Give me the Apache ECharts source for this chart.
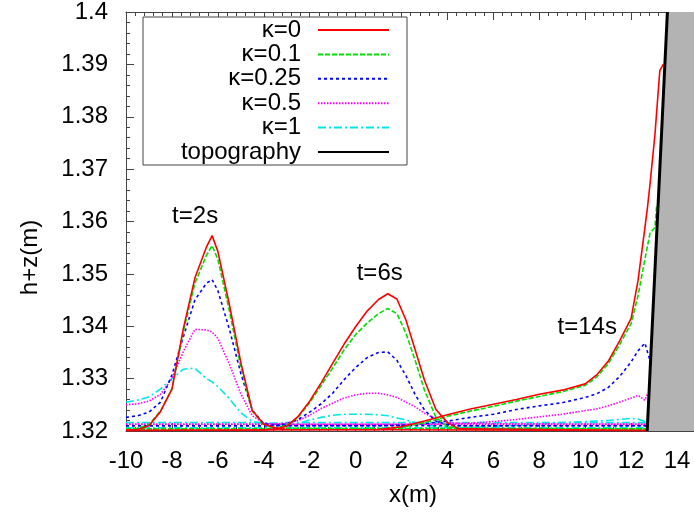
<!DOCTYPE html>
<html><head><meta charset="utf-8">
<script src="https://cdn.jsdelivr.net/npm/echarts@6/dist/echarts.min.js"></script>
<style>html,body{margin:0;padding:0;background:#fff;overflow:hidden;width:694px;height:514px}#c{width:700px;height:514px}</style>
</head><body><div id="c"></div>
<script>
// ---- data ----
const kappaNames = ['κ=0', 'κ=0.1', 'κ=0.25', 'κ=0.5', 'κ=1'];
const timeLabels = ['t=2s', 't=6s', 't=14s'];
const timeLabelX = [-6.99, 1.05, 10.09];
const timeLabelY = [1.3610, 1.3501, 1.3398];

const t2X = [-10, -9.5, -9, -8.5, -8, -7.5, -7, -6.5, -6.25, -6, -5.5, -5, -4.5, -4, -3.5, -3, 12.7];
const t2_k0   = [1.3202, 1.3203, 1.3210, 1.3237, 1.3280, 1.3396, 1.3492, 1.3551, 1.3573, 1.3543, 1.3442, 1.3331, 1.3239, 1.3213, 1.3206, 1.3203, 1.3201];
const t2_k01  = [1.3204, 1.3205, 1.3212, 1.3238, 1.3280, 1.3390, 1.3482, 1.3535, 1.3554, 1.3528, 1.3430, 1.3322, 1.3238, 1.3212, 1.3206, 1.3205, 1.3204];
const t2_k025 = [1.3226, 1.3229, 1.3236, 1.3255, 1.3307, 1.3380, 1.3450, 1.3482, 1.3489, 1.3468, 1.3395, 1.3310, 1.3240, 1.3214, 1.3211, 1.3210, 1.3210];
const t2_k05  = [1.3250, 1.3252, 1.3257, 1.3270, 1.3300, 1.3352, 1.3394, 1.3393, 1.3389, 1.3377, 1.3328, 1.3271, 1.3229, 1.3215, 1.3213, 1.3213, 1.3213];
const t2_k1   = [1.3255, 1.3259, 1.3265, 1.3280, 1.3300, 1.3318, 1.3320, 1.3300, 1.3294, 1.3285, 1.3262, 1.3235, 1.3218, 1.3214, 1.3215, 1.3216, 1.3216];

const t6X = [-10, -4, -3.5, -3, -2.5, -2, -1.5, -1, -0.5, 0, 0.5, 1, 1.4, 1.8, 2.2, 2.6, 3, 3.5, 4, 4.5, 12.7];
const t6_k0   = [1.3201, 1.3202, 1.3204, 1.3209, 1.3228, 1.3257, 1.3292, 1.3329, 1.3366, 1.3399, 1.3429, 1.3451, 1.3462, 1.3452, 1.3411, 1.3354, 1.3297, 1.3241, 1.3216, 1.3204, 1.3201];
const t6_k01  = [1.3204, 1.3204, 1.3206, 1.3211, 1.3226, 1.3254, 1.3287, 1.3320, 1.3355, 1.3384, 1.3406, 1.3424, 1.3434, 1.3424, 1.3386, 1.3334, 1.3278, 1.3226, 1.3208, 1.3205, 1.3204];
const t6_k025 = [1.3210, 1.3210, 1.3210, 1.3214, 1.3222, 1.3236, 1.3252, 1.3272, 1.3298, 1.3321, 1.3340, 1.3350, 1.3351, 1.3335, 1.3305, 1.3269, 1.3240, 1.3219, 1.3212, 1.3210, 1.3210];
const t6_k05  = [1.3213, 1.3213, 1.3213, 1.3215, 1.3220, 1.3230, 1.3243, 1.3253, 1.3263, 1.3269, 1.3272, 1.3272, 1.3269, 1.3264, 1.3255, 1.3246, 1.3234, 1.3223, 1.3217, 1.3214, 1.3213];
const t6_k1   = [1.3216, 1.3216, 1.3214, 1.3213, 1.3214, 1.3221, 1.3226, 1.3230, 1.3232, 1.3232, 1.3232, 1.3231, 1.3229, 1.3225, 1.3221, 1.3216, 1.3212, 1.3209, 1.3207, 1.3206, 1.3206];

const t14X = [-10, 1, 2, 3, 4, 5, 6, 7, 8, 9, 10, 10.5, 11, 11.5, 12, 12.3, 12.6, 12.72, 12.82, 13.04, 13.11, 13.25, 13.4];
const t14_k0   = [1.3201, 1.3203, 1.3208, 1.3219, 1.3231, 1.3242, 1.3251, 1.3260, 1.3270, 1.3278, 1.3290, 1.3307, 1.3333, 1.3372, 1.3415, 1.3487, 1.3588, 1.3630, 1.3670, 1.3767, 1.3808, 1.3888, 1.3900];
const t14_k01  = [1.3204, 1.3204, 1.3207, 1.3216, 1.3228, 1.3238, 1.3247, 1.3257, 1.3266, 1.3275, 1.3287, 1.3303, 1.3328, 1.3365, 1.3405, 1.3458, 1.3528, 1.3555, 1.3577, 1.3589, 1.3630, null, null];
const t14_k025 = [1.3210, 1.3210, 1.3211, 1.3214, 1.3219, 1.3226, 1.3232, 1.3241, 1.3248, 1.3254, 1.3264, 1.3271, 1.3283, 1.3304, 1.3332, 1.3353, 1.3368, 1.3350, 1.3335, null, null, null, null];
const t14_k05  = [1.3213, 1.3213, 1.3213, 1.3213, 1.3214, 1.3215, 1.3218, 1.3222, 1.3227, 1.3232, 1.3239, 1.3242, 1.3248, 1.3255, 1.3263, 1.3268, 1.3259, 1.3272, null, null, null, null, null];
const t14_k1   = [1.3206, 1.3206, 1.3206, 1.3206, 1.3206, 1.3207, 1.3209, 1.3211, 1.3213, 1.3216, 1.3218, 1.3219, 1.3220, 1.3222, 1.3224, 1.3223, 1.3218, 1.3212, null, null, null, null, null];

const topoX = [12.7, 13.58];
const topoY = [1.32, 1.40];
const wallX = [12.7, 13.58, 15];
const wallY = [1.32, 1.40, 1.40];

const xTicks = [-10, 15, 2];      // min, max, interval
const yTicks = [1.32, 1.40, 0.01];

// ---- styles ----
const FONT = 'Liberation Sans';
const FS = 24;
const styles = [
  { color: '#ff0000', width: 1.6, type: 'solid' },
  { color: '#00e000', width: 1.6, type: [5, 2] },
  { color: '#0000ff', width: 1.6, type: [3, 3] },
  { color: '#ff00ff', width: 1.6, type: [1.5, 1.5] },
  { color: '#00e6e6', width: 1.6, type: [8, 3, 2, 3] }
];
const timeSets = [
  [t2X, [t2_k0, t2_k01, t2_k025, t2_k05, t2_k1]],
  [t6X, [t6_k0, t6_k01, t6_k025, t6_k05, t6_k1]],
  [t14X, [t14_k0, t14_k01, t14_k025, t14_k05, t14_k1]]
];
function pairs(xs, ys) {
  const out = [];
  xs.forEach((x, i) => { if (ys[i] !== null && ys[i] !== undefined) out.push([x, ys[i]]); });
  return out;
}

const series = [];
for (let k = 0; k < kappaNames.length; k++) {
  timeSets.forEach(([xs, ysets]) => {
    series.push({
      name: kappaNames[k], type: 'line', symbol: 'none', silent: true,
      data: pairs(xs, ysets[k]),
      lineStyle: { color: styles[k].color, width: styles[k].width, type: styles[k].type },
      itemStyle: { color: styles[k].color },
      z: 3 + (4 - k) * 0.1
    });
  });
}
series.push({
  name: 'wall', type: 'line', symbol: 'none', silent: true,
  data: pairs(wallX, wallY),
  lineStyle: { width: 0 },
  areaStyle: { color: '#b3b3b3', opacity: 1, origin: 'start' },
  z: 5
});
series.push({
  name: 'topography', type: 'line', symbol: 'none', silent: true,
  data: pairs(topoX, topoY),
  lineStyle: { color: '#000', width: 3 },
  itemStyle: { color: '#000' },
  z: 6
});
series.push({
  name: 'labels', type: 'scatter', silent: true,
  symbolSize: 1, itemStyle: { color: 'rgba(0,0,0,0)', opacity: 1 },
  data: timeLabels.map((t, i) => ({ value: [timeLabelX[i], timeLabelY[i]], name: t })),
  label: { show: true, position: 'inside', formatter: p => p.name, color: '#000', opacity: 1, fontFamily: FONT, fontSize: FS },
  z: 7
});

const axisCol = '#444';
const xBase = {
  type: 'value', min: xTicks[0], max: xTicks[1], interval: xTicks[2],
  axisLine: { show: true, onZero: false, lineStyle: { color: axisCol, width: 1 } },
  axisTick: { show: true, inside: true, length: 8, lineStyle: { color: axisCol } },
  minorTick: { show: true, splitNumber: 5, length: 4, lineStyle: { color: axisCol } },
  splitLine: { show: false }
};
const yBase = {
  type: 'value', min: yTicks[0], max: yTicks[1], interval: yTicks[2],
  axisLine: { show: true, onZero: false, lineStyle: { color: axisCol, width: 1 } },
  axisTick: { show: true, inside: true, length: 8, lineStyle: { color: axisCol } },
  minorTick: { show: true, splitNumber: 5, length: 4, lineStyle: { color: axisCol } },
  splitLine: { show: false }
};

const chart = echarts.init(document.getElementById('c'), null, { renderer: 'canvas' });
chart.setOption({
  animation: false,
  backgroundColor: '#fff',
  grid: { left: 126, top: 11, right: 0, bottom: 83, containLabel: false },
  xAxis: [
    Object.assign({}, xBase, {
      position: 'bottom',
      name: 'x(m)', nameLocation: 'middle', nameGap: 52,
      nameTextStyle: { fontFamily: FONT, fontSize: FS, color: '#000' },
      axisLabel: { show: true, margin: 18, fontFamily: FONT, fontSize: FS, color: '#000', showMaxLabel: false }
    }),
    Object.assign({}, xBase, { position: 'top', axisLabel: { show: false } })
  ],
  yAxis: [
    Object.assign({}, yBase, {
      position: 'left',
      name: 'h+z(m)', nameLocation: 'middle', nameGap: 84,
      nameTextStyle: { fontFamily: FONT, fontSize: FS, color: '#000', padding: [0, 72, 0, 0] },
      axisLabel: { show: true, margin: 18, fontFamily: FONT, fontSize: FS, color: '#000' }
    }),
    Object.assign({}, yBase, { position: 'right', axisLabel: { show: false } })
  ],
  legend: {
    data: kappaNames.concat(['topography']),
    orient: 'vertical', align: 'right',
    left: 143, top: 17,
    itemWidth: 71, itemHeight: 14, itemGap: 0.4,
    padding: [1, 17, 1, 5],
    borderColor: axisCol, borderWidth: 1, backgroundColor: '#fff',
    selectedMode: false,
    itemStyle: { opacity: 0 },
    formatter: name => '{a|' + name + '}',
    textStyle: {
      fontFamily: FONT, fontSize: FS, color: '#000',
      rich: { a: { fontFamily: FONT, fontSize: FS, color: '#000', width: 153, align: 'right', padding: [0, 12, 0, 0], lineHeight: 26 } }
    }
  },
  series: series
});
</script>
</body></html>
